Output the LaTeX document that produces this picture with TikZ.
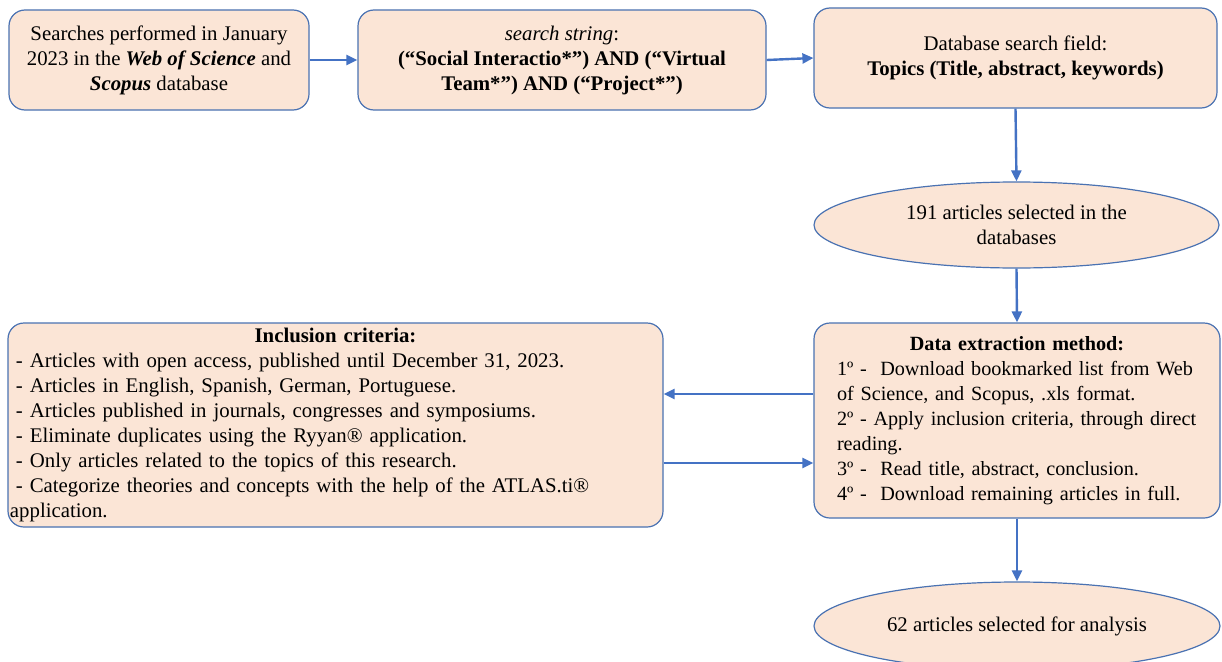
\documentclass[tikz,border=0pt]{standalone}
\usepackage{fontspec}
\setmainfont{Liberation Serif}
\usetikzlibrary{arrows.meta,shapes.geometric}
\definecolor{boxfill}{HTML}{FBE5D6}
\definecolor{boxline}{HTML}{4A72B2}
\definecolor{arrowc}{HTML}{4472C4}
\tikzset{
  box/.style={draw=boxline, fill=boxfill, line width=1.2pt, rounded corners=16pt,
    inner sep=0pt, font=\fontsize{20.8}{25}\selectfont, align=center},
  oval/.style={ellipse, draw=boxline, fill=boxfill, line width=1.2pt,
    inner sep=0pt, font=\fontsize{20.8}{25}\selectfont, align=center},
  conn/.style={draw=arrowc, line width=2.4pt, -{Triangle[length=11pt,width=10pt]}}
}
\begin{document}
\begin{tikzpicture}[x=1pt,y=-1pt]
\useasboundingbox (0,0) rectangle (1222,661);
\fill[white] (0,0) rectangle (1222,661);

\node[box, minimum width=300pt, minimum height=100pt] (search) at (159,60)
  {Searches performed in January\\2023 in the \textbf{\textit{Web of Science}} and\\\textbf{\textit{Scopus}} database};

\node[box, minimum width=408pt, minimum height=100pt] (string) at (562,60)
  {\textit{search string}:\\\textbf{(“Social Interactio*”) AND (“Virtual}\\\textbf{Team*”) AND (“Project*”)}};

\node[box, minimum width=403pt, minimum height=100pt] (field) at (1015.5,58)
  {Database search field:\\\textbf{Topics (Title, abstract, keywords)}};

\node[oval, minimum width=405pt, minimum height=86pt] (sel191) at (1016.5,225)
  {191 articles selected in the\\databases};

\node[box, minimum width=406pt, minimum height=195pt, text width=360pt, align=left,
      font=\fontsize{20.2}{25}\selectfont] (extract) at (1017,420.5)
  {\makebox[360pt][c]{\textbf{Data extraction method:}}\\
   \makebox[360pt][s]{1º -\ \ Download bookmarked list from Web}\\
   of Science, and Scopus, .xls format.\\
   \makebox[360pt][s]{2º - Apply inclusion criteria, through direct}\\
   reading.\\
   3º -\ \ Read title, abstract, conclusion.\\
   4º -\ \ Download remaining articles in full.};

\node[box, minimum width=655pt, minimum height=204pt, text width=639pt, align=left] (incl) at (335.5,425)
  {\makebox[639pt][c]{\textbf{Inclusion criteria:}}\\
   - Articles with open access, published until December 31, 2023.\\
   - Articles in English, Spanish, German, Portuguese.\\
   - Articles published in journals, congresses and symposiums.\\
   - Eliminate duplicates using the Ryyan® application.\\
   - Only articles related to the topics of this research.\\
   - Categorize theories and concepts with the help of the ATLAS.ti®\\
   \hspace*{-6pt}application.};

\node[oval, minimum width=406pt, minimum height=88pt] (sel62) at (1017,626)
  {62 articles selected for analysis};

\draw[conn] (search.east) -- (string.west);
\draw[conn] (string.east) -- (field.west);
\draw[conn] (field.south) -- (sel191.north);
\draw[conn] (sel191.south) -- (extract.north);
\draw[conn] ([yshift=26.5pt]extract.west) -- ([yshift=26.5pt]extract.west -| incl.east);
\draw[conn] ([yshift=-42.5pt]extract.west -| incl.east) -- ([yshift=-42.5pt]extract.west);
\draw[conn] (extract.south) -- (sel62.north);
\end{tikzpicture}
\end{document}
